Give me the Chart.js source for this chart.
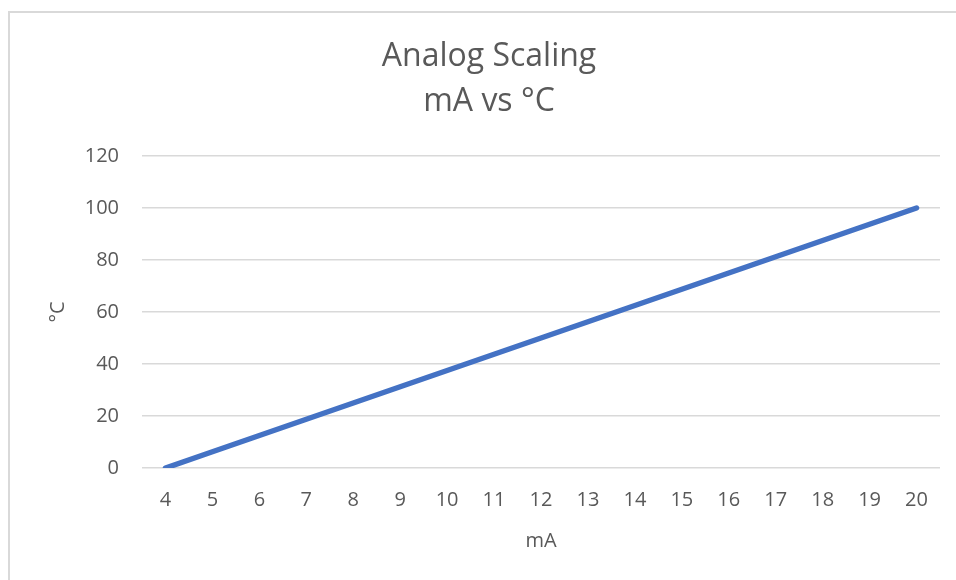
<!DOCTYPE html>
<html>
<head>
<meta charset="utf-8">
<script src="https://cdn.jsdelivr.net/npm/chart.js@4"></script>
<style>
    html, body { margin: 0; padding: 0; background: #fff; }
    #wrap { position: relative; width: 956px; height: 580px; overflow: hidden; }
    #frame {
        position: absolute; left: 8px; top: 11px; width: 1000px; height: 1000px;
        border: 2px solid #d9d9d9; box-sizing: border-box;
    }
    #box { position: absolute; left: 0; top: 0; width: 956px; height: 580px; }
</style>
</head>
<body>
<div id="wrap">
    <div id="frame"></div>
    <div id="box"><canvas id="scalingChart"></canvas></div>
</div>
<script>
// mA input (category axis)
const mA = ['4', '5', '6', '7', '8', '9', '10', '11', '12', '13', '14', '15', '16', '17', '18', '19', '20'];
// °C output
const degC = [0, 6.25, 12.5, 18.75, 25, 31.25, 37.5, 43.75, 50, 56.25, 62.5, 68.75, 75, 81.25, 87.5, 93.75, 100];
const titleLines = ['Analog Scaling', 'mA vs °C'];

const grey = '#595959';
const fontFamily = '"Open Sans", "Noto Sans", sans-serif';

document.addEventListener("DOMContentLoaded", function () {
    const ctx = document.getElementById('scalingChart').getContext('2d');
    new Chart(ctx, {
        type: 'line',
        data: {
            labels: mA,
            datasets: [{
                label: '°C',
                data: degC,
                borderColor: '#4472C4',
                backgroundColor: '#4472C4',
                borderWidth: 5.5,
                borderCapStyle: 'round',
                pointRadius: 0,
                tension: 0,
                fill: false
            }]
        },
        options: {
            responsive: true,
            maintainAspectRatio: false,
            animation: false,
            layout: {
                padding: { top: 10, right: 0, bottom: 0, left: 22 }
            },
            plugins: {
                legend: { display: false },
                tooltip: { enabled: false },
                title: {
                    display: true,
                    text: titleLines,
                    color: grey,
                    font: { family: fontFamily, size: 32, weight: 'normal', lineHeight: 1.406 },
                    padding: { top: 24, bottom: 32 }
                }
            },
            scales: {
                x: {
                    offset: true,
                    grid: { display: false, drawTicks: false },
                    border: { display: false },
                    ticks: {
                        color: grey,
                        padding: 20,
                        maxRotation: 0,
                        autoSkip: false,
                        font: { family: fontFamily, size: 20 }
                    },
                    title: {
                        display: true,
                        text: 'mA',
                        color: grey,
                        font: { family: fontFamily, size: 20 },
                        padding: { top: 0, bottom: 27 }
                    },
                    afterFit: function (scale) { scale.height = 112; }
                },
                y: {
                    min: 0,
                    max: 120,
                    grid: { color: '#d9d9d9', lineWidth: 1.5, drawTicks: false },
                    border: { display: false },
                    ticks: {
                        stepSize: 20,
                        color: grey,
                        padding: 23,
                        font: { family: fontFamily, size: 20 }
                    },
                    title: {
                        display: true,
                        text: '°C',
                        color: grey,
                        font: { family: fontFamily, size: 20 },
                        padding: { top: 24, bottom: 0 }
                    },
                    afterFit: function (scale) { scale.width = 120; }
                },
                // empty right-hand axis, only keeps the plot clear of the right edge
                spacer: {
                    type: 'linear',
                    position: 'right',
                    grid: { display: false, drawTicks: false },
                    border: { display: false },
                    ticks: { display: false },
                    afterFit: function (scale) { scale.width = 16; }
                }
            }
        }
    });
});
</script>
</body>
</html>
